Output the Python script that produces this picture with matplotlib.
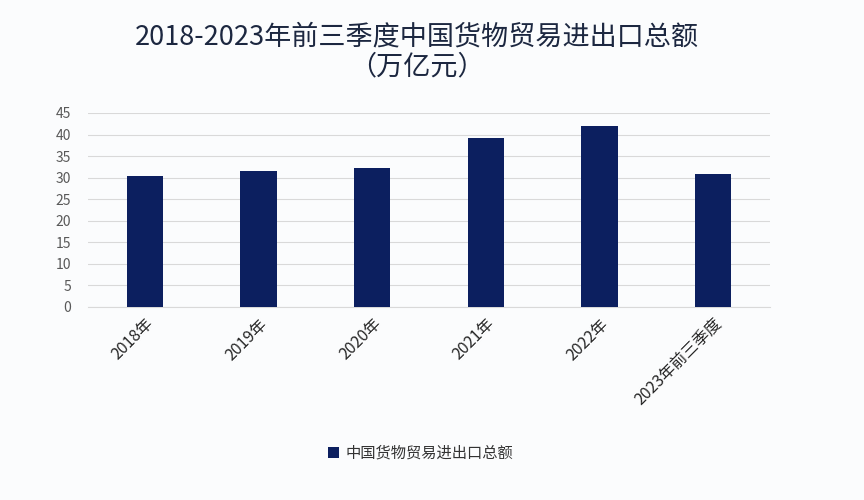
import matplotlib
matplotlib.use('Agg')
import matplotlib.pyplot as plt

plt.rcParams['font.family'] = ['Noto Sans CJK SC', 'DejaVu Sans']

categories = ['2018年', '2019年', '2020年', '2021年', '2022年', '2023年前三季度']
values = [30.5, 31.5, 32.2, 39.1, 42.1, 30.8]
series_name = '中国货物贸易进出口总额'
title = '2018-2023年前三季度中国货物贸易进出口总额\n（万亿元）'

fig = plt.figure(figsize=(8.64, 5.0), dpi=100)
fig.patch.set_facecolor('#fbfcfd')
ax = fig.add_axes([88 / 864, 1 - 307 / 500, (770 - 88) / 864, (307 - 113) / 500])
ax.set_facecolor('#fbfcfd')

x = range(len(categories))
ax.bar(x, values, width=0.32, color='#0c1f5f', label=series_name, zorder=3)

ax.set_xlim(-0.5, len(categories) - 0.5)
ax.set_ylim(0, 45)
ax.set_yticks(range(0, 46, 5))
ax.yaxis.grid(True, color='#d9d9d9', linewidth=0.8, zorder=0)
ax.tick_params(axis='y', length=0, labelsize=10, labelcolor='#595959', pad=12)
ax.tick_params(axis='x', length=0, labelsize=11.5, labelcolor='#262626', pad=6)
ax.set_xticks(list(x))
ax.set_xticklabels(categories, rotation=45, ha='right', rotation_mode='anchor')
for s in ['top', 'right', 'left']:
    ax.spines[s].set_visible(False)
ax.spines['bottom'].set_color('#d9d9d9')

fig.text(0.482, 1 - 52 / 500, title, ha='center', va='center', fontsize=19.5,
         color='#1c2740', linespacing=1.15)

fig.legend(loc='center', bbox_to_anchor=(0.487, 1 - 453 / 500), frameon=False,
           fontsize=11, handlelength=0.7, handleheight=0.7, handletextpad=0.4,
           labelcolor='#333333')

fig.savefig('out.png', dpi=100, facecolor=fig.get_facecolor())
